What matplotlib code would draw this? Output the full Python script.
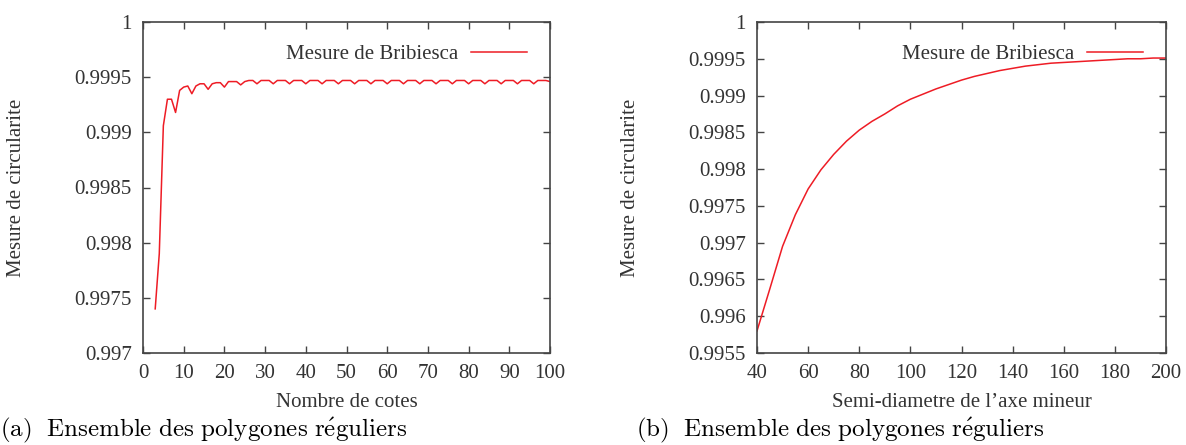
import matplotlib
matplotlib.use("Agg")
import matplotlib.pyplot as plt

# ---- data (a): number of sides vs circularity ----
sides = list(range(3, 101))
circ_a = [
    0.99740, 0.99790, 0.99906, 0.99930, 0.99930, 0.99918, 0.99938, 0.99941,
    0.99942, 0.99935, 0.99942, 0.99944, 0.99944, 0.99939, 0.99944, 0.99945,
    0.99945, 0.99941, 0.99946, 0.99946, 0.99946, 0.99943, 0.99946, 0.99947,
    0.99947, 0.99944, 0.99947, 0.99947, 0.99947, 0.99944, 0.99947, 0.99947,
    0.99947, 0.99944, 0.99947, 0.99947, 0.99947, 0.99944, 0.99947, 0.99947,
    0.99947, 0.99944, 0.99947, 0.99947, 0.99947, 0.99944, 0.99947, 0.99947,
    0.99947, 0.99944, 0.99947, 0.99947, 0.99947, 0.99944, 0.99947, 0.99947,
    0.99947, 0.99944, 0.99947, 0.99947, 0.99947, 0.99944, 0.99947, 0.99947,
    0.99947, 0.99944, 0.99947, 0.99947, 0.99947, 0.99944, 0.99947, 0.99947,
    0.99947, 0.99944, 0.99947, 0.99947, 0.99947, 0.99944, 0.99947, 0.99947,
    0.99947, 0.99944, 0.99947, 0.99947, 0.99947, 0.99944, 0.99947, 0.99947,
    0.99947, 0.99944, 0.99947, 0.99947, 0.99947, 0.99944, 0.99947, 0.99947,
    0.99947, 0.99946,
]

# ---- data (b): semi-diameter of minor axis vs circularity ----
semi_axis = list(range(40, 201, 5))
circ_b = [
    0.99580, 0.99637, 0.99695, 0.99738, 0.99773, 0.99799, 0.99820, 0.99838,
    0.99853, 0.99865, 0.99875, 0.99886, 0.99895, 0.99902, 0.99909, 0.99915,
    0.99921, 0.99926, 0.99930, 0.99934, 0.99937, 0.99940, 0.99942, 0.99944,
    0.99945, 0.99946, 0.99947, 0.99948, 0.99949, 0.99950, 0.99950, 0.99951,
    0.99951,
]

xticks_a = list(range(0, 101, 10))
yticks_a = [0.997, 0.9975, 0.998, 0.9985, 0.999, 0.9995, 1.0]
ytick_labels_a = ["0.997", "0.9975", "0.998", "0.9985", "0.999", "0.9995", "1"]
xticks_b = list(range(40, 201, 20))
yticks_b = [0.9955, 0.996, 0.9965, 0.997, 0.9975, 0.998, 0.9985, 0.999, 0.9995, 1.0]
ytick_labels_b = ["0.9955", "0.996", "0.9965", "0.997", "0.9975", "0.998",
                  "0.9985", "0.999", "0.9995", "1"]

legend_label = "Mesure de Bribiesca"
ylabel = "Mesure de circularite"
xlabel_a = "Nombre de cotes"
xlabel_b = "Semi-diametre de l\u2019axe mineur"
caption_a = r"$\mathrm{(a)\ \ Ensemble\ des\ polygones\ r\acute{e}guliers}$"
caption_b = r"$\mathrm{(b)\ \ Ensemble\ des\ polygones\ r\acute{e}guliers}$"

plt.rcParams["font.family"] = ["Liberation Serif", "DejaVu Serif"]
plt.rcParams["mathtext.fontset"] = "cm"

W, H = 1186, 445
fig = plt.figure(figsize=(W / 100, H / 100), dpi=100)

TXT = "#333333"
SPINE = "#444444"
FS = 15

def make_ax(x0, x1, y_top, y_bot):
    return fig.add_axes([x0 / W, 1 - y_bot / H, (x1 - x0) / W, (y_bot - y_top) / H])

def style(ax):
    for s in ax.spines.values():
        s.set_color(SPINE)
        s.set_linewidth(1.2)
    ax.tick_params(direction="in", length=5, width=1, colors=SPINE,
                   labelcolor=TXT, labelsize=FS, top=True, right=True, pad=8)

ax1 = make_ax(143, 550, 22, 353)
ax1.plot(sides, circ_a, color="#ee1c25", lw=1.1, label=legend_label)
ax1.set_xlim(0, 100)
ax1.set_ylim(0.997, 1.0)
ax1.set_xticks(xticks_a)
ax1.set_yticks(yticks_a)
ax1.set_yticklabels(ytick_labels_a)
style(ax1)
ax1.set_xlabel(xlabel_a, fontsize=FS, color=TXT)
ax1.set_ylabel(ylabel, fontsize=FS, color=TXT)
ax1.xaxis.set_label_coords(0.5, -0.122)
ax1.yaxis.set_label_coords(-0.287, 0.5)

ax2 = make_ax(757, 1166, 22, 353)
ax2.plot(semi_axis, circ_b, color="#ee1c25", lw=1.1, label=legend_label)
ax2.set_xlim(40, 200)
ax2.set_ylim(0.9955, 1.0)
ax2.set_xticks(xticks_b)
ax2.set_yticks(yticks_b)
ax2.set_yticklabels(ytick_labels_b)
style(ax2)
ax2.set_xlabel(xlabel_b, fontsize=FS, color=TXT)
ax2.set_ylabel(ylabel, fontsize=FS, color=TXT)
ax2.xaxis.set_label_coords(0.5, -0.122)
ax2.yaxis.set_label_coords(-0.286, 0.5)

for ax in (ax1, ax2):
    leg = ax.legend(loc="upper right", frameon=False, fontsize=FS,
                    markerfirst=False, handlelength=2.7, handletextpad=0.6,
                    borderaxespad=1.0, borderpad=0.1)
    for t in leg.get_texts():
        t.set_color(TXT)

fig.text(0 / W, 1 - 436 / H, caption_a, fontsize=18, color="black",
         ha="left", va="baseline")
fig.text(636 / W, 1 - 436 / H, caption_b, fontsize=18, color="black",
         ha="left", va="baseline")

fig.savefig("out.png", dpi=100)
